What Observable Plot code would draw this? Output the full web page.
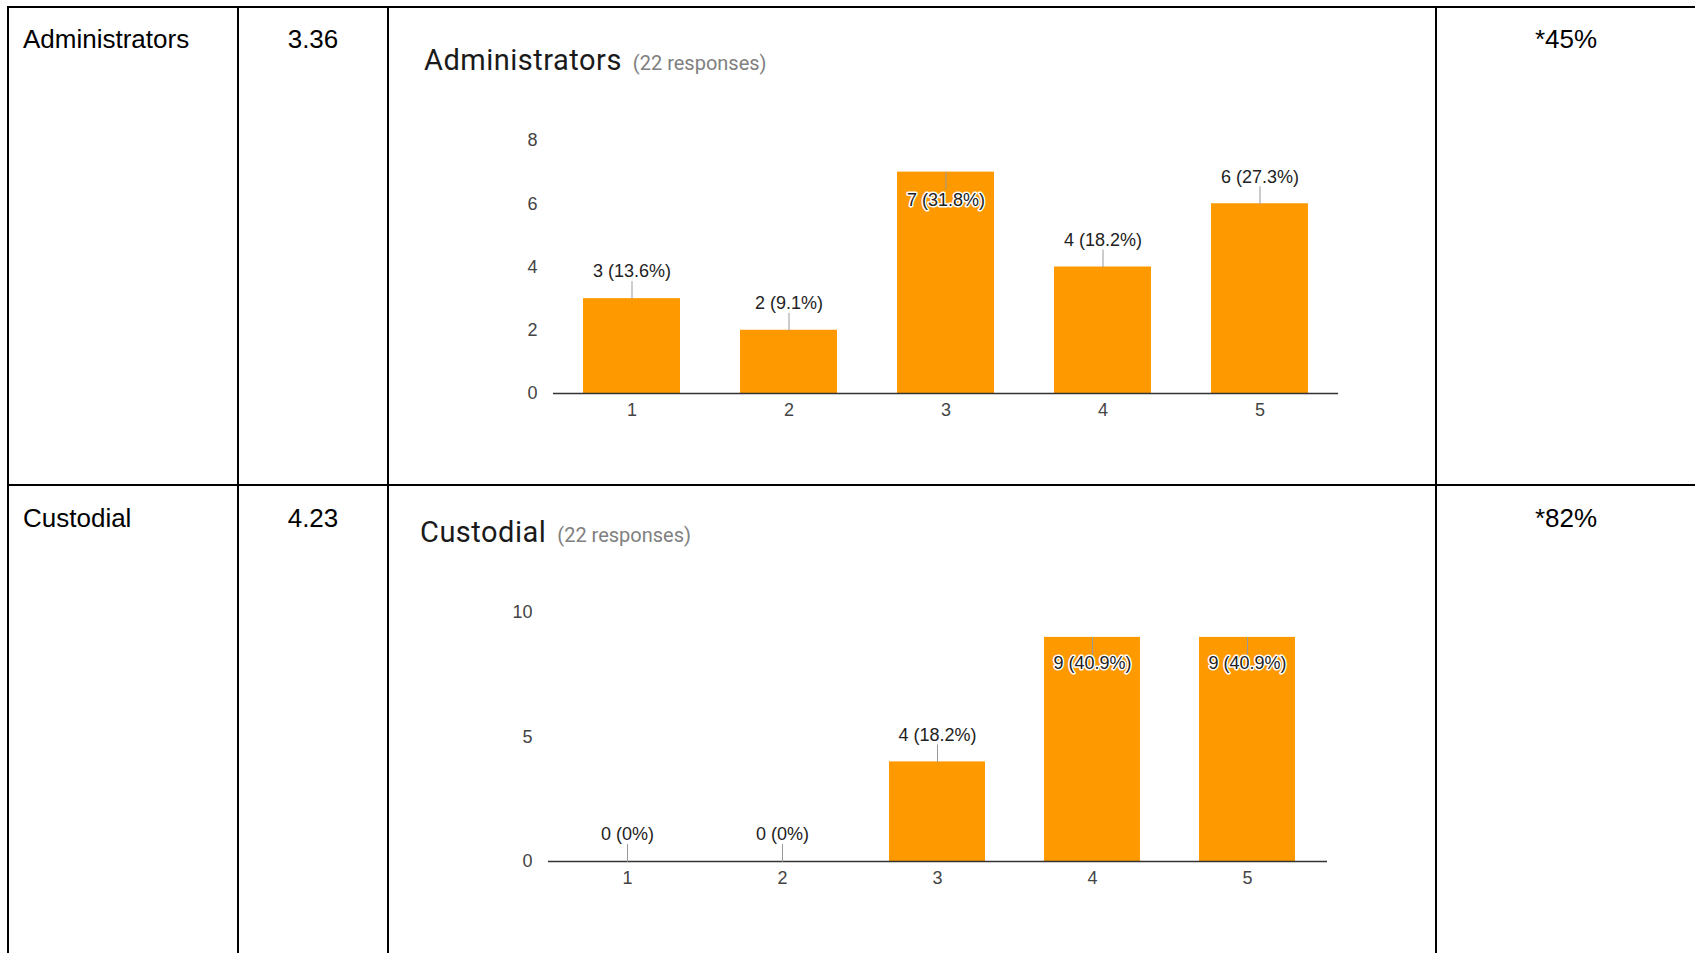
<!DOCTYPE html>
<html>
<head>
<meta charset="utf-8">
<script src="https://cdn.jsdelivr.net/npm/d3@7"></script>
<script src="https://cdn.jsdelivr.net/npm/@observablehq/plot@0.6"></script>
<style>
  html, body { margin: 0; padding: 0; background: #fff; }
  body { width: 1695px; height: 953px; position: relative; overflow: hidden; font-family: Arial, "Liberation Sans", sans-serif; }
  .hline, .vline { position: absolute; background: #000; }
  .cell { position: absolute; font-size: 26px; line-height: 26px; color: #000; white-space: nowrap; }
  .ctitle { position: absolute; font-family: Roboto, "Noto Sans", sans-serif; white-space: nowrap; line-height: 30px; }
  .ctitle .main { font-size: 29px; font-weight: 400; letter-spacing: 0.5px; color: #1a1a1a; }
  .ctitle .sub { font-size: 20px; color: #808080; margin-left: 11px; }
  .chart { position: absolute; }
</style>
</head>
<body>
<script>
// ---- data ----
const rowLabels = ["Administrators", "Custodial"];
const averages = ["3.36", "4.23"];
const favorable = ["*45%", "*82%"];
const responses = [22, 22];
const categories = ["1", "2", "3", "4", "5"];
const adminCounts = [3, 2, 7, 4, 6];
const adminPct = ["13.6%", "9.1%", "31.8%", "18.2%", "27.3%"];
const custodialCounts = [0, 0, 4, 9, 9];
const custodialPct = ["0%", "0%", "18.2%", "40.9%", "40.9%"];
const adminTicks = [0, 2, 4, 6, 8];
const custodialTicks = [0, 5, 10];

// ---- table frame ----
function line(cls, x, y, w, h) {
  const d = document.createElement("div");
  d.className = cls;
  Object.assign(d.style, {left: x + "px", top: y + "px", width: w + "px", height: h + "px"});
  document.body.appendChild(d);
}
line("hline", 7, 6, 1700, 2);
line("hline", 7, 484, 1700, 2);
line("vline", 7, 6, 2, 960);
line("vline", 237, 6, 2, 960);
line("vline", 387, 6, 2, 960);
line("vline", 1435, 6, 2, 960);

function cell(text, x, baseline, align) {
  const d = document.createElement("div");
  d.className = "cell";
  d.textContent = text;
  d.style.top = (baseline - 21) + "px";
  if (align === "center") {
    d.style.left = (x - 200) + "px";
    d.style.width = "400px";
    d.style.textAlign = "center";
  } else {
    d.style.left = x + "px";
  }
  document.body.appendChild(d);
}
const rowBaselines = [47, 526];
rowLabels.forEach((t, i) => cell(t, 23, rowBaselines[i], "left"));
averages.forEach((t, i) => cell(t, 313, rowBaselines[i], "center"));
favorable.forEach((t, i) => cell(t, 1566, rowBaselines[i], "center"));

// ---- chart titles ----
function title(name, n, x, baseline) {
  const d = document.createElement("div");
  d.className = "ctitle";
  d.style.left = x + "px";
  d.style.top = (baseline - 24) + "px";
  d.innerHTML = `<span class="main"></span><span class="sub"></span>`;
  d.querySelector(".main").textContent = name;
  d.querySelector(".sub").textContent = `(${n} responses)`;
  document.body.appendChild(d);
}
title(rowLabels[0], responses[0], 424, 69);
title(rowLabels[1], responses[1], 420, 541);

// ---- bar charts ----
const leader = {draw(ctx, l) { ctx.moveTo(0, 0); ctx.lineTo(0, -l); }};

function barChart(counts, pcts, ticks, opts) {
  const ymax = ticks[ticks.length - 1];
  const data = categories.map((c, i) => ({
    cat: c, count: counts[i], label: `${counts[i]} (${pcts[i]})`,
    inside: counts[i] / ymax > 0.8
  }));
  const outside = data.filter(d => !d.inside);
  const inside = data.filter(d => d.inside);
  return Plot.plot({
    width: 1040,
    height: 320,
    marginLeft: opts.ml,
    marginRight: opts.mr,
    marginTop: opts.mt,
    marginBottom: opts.mb,
    style: {fontFamily: "Arial, 'Liberation Sans', sans-serif", fontSize: "18px", color: "#444", background: "transparent"},
    x: {domain: categories, paddingInner: 0.38, paddingOuter: 0.19, label: null, tickSize: 0, tickPadding: 10},
    y: {domain: [0, ymax], ticks: ticks, label: null, tickSize: 0, tickPadding: 16},
    marks: [
      Plot.barY(data, {x: "cat", y: "count", fill: "#ff9900"}),
      Plot.ruleY([0], {stroke: "#333", strokeWidth: 1.5}),
      Plot.vector(outside, {x: "cat", y: "count", length: 17, rotate: 0, anchor: "start", shape: leader, stroke: "#999", strokeWidth: 1}),
      Plot.vector(inside, {x: "cat", y: "count", length: 17, rotate: 180, anchor: "start", shape: leader, stroke: "#999", strokeWidth: 1}),
      Plot.text(outside, {x: "cat", y: "count", text: "label", dy: -27, lineAnchor: "middle", fill: "#222", stroke: "white", strokeWidth: 3, fontSize: 18}),
      Plot.text(inside, {x: "cat", y: "count", text: "label", dy: opts.inDy, lineAnchor: "middle", fill: "#222", stroke: "white", strokeWidth: 3, fontSize: 18})
    ]
  });
}

const c1 = barChart(adminCounts, adminPct, adminTicks, {ml: 163, mr: 92, mt: 30, mb: 37, inDy: 28});
c1.classList.add("chart");
c1.style.left = "390px";
c1.style.top = "110px";
document.body.appendChild(c1);

const c2 = barChart(custodialCounts, custodialPct, custodialTicks, {ml: 158, mr: 103, mt: 22, mb: 49, inDy: 26});
c2.classList.add("chart");
c2.style.left = "390px";
c2.style.top = "590px";
document.body.appendChild(c2);
</script>
</body>
</html>
